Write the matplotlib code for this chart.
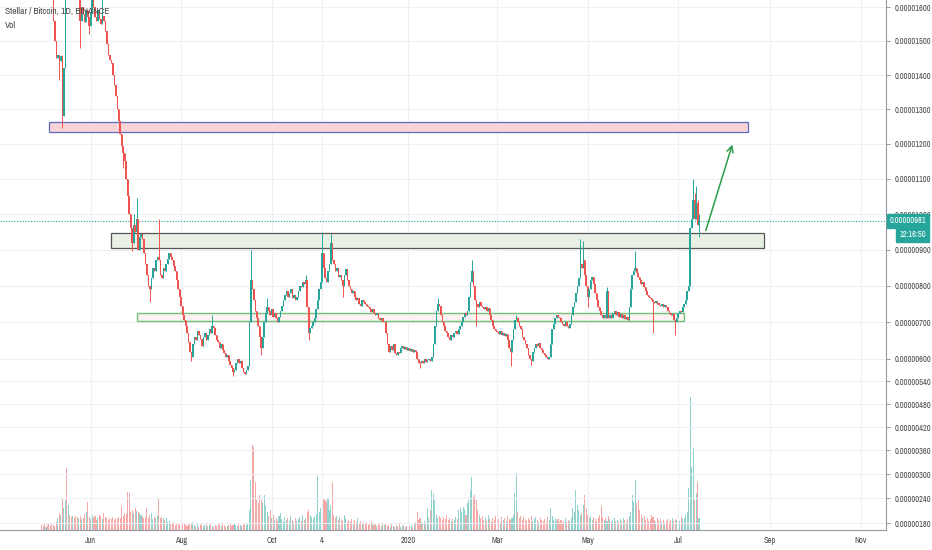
import numpy as np
import pandas as pd
import matplotlib
matplotlib.use("Agg")
import matplotlib.pyplot as plt
import matplotlib.dates as mdates
from matplotlib import font_manager
from matplotlib.patches import Rectangle
from matplotlib.ticker import FixedLocator, FuncFormatter

# XLM/BTC daily closes in satoshi (1e-8 BTC), starting 2019-04-29
first_day = "2019-04-29"
day0 = "2019-05-07"          # wick dict keys count days from this date
first_open = 1850
closes = [
    1820, 1790, 1760, 1800, 1770, 1740, 1700, 1660,
    1560, 1500, 1450, 1460, 1440, 1455, 1280, 1420, 1700, 1680,
    1720, 1690, 1660, 1700, 1670, 1650, 1640, 1660, 1560, 1600,
    1580, 1555, 1590, 1570, 1545, 1585, 1620, 1600, 1570, 1560,
    1590, 1565, 1550, 1575, 1560, 1530, 1490, 1460, 1445, 1435,
    1400, 1370, 1340, 1300, 1265, 1230, 1195, 1175, 1150, 1100,
    1050, 1000, 960, 920, 970, 950, 985, 900, 935, 945,
    930, 890, 860, 830, 800, 790, 820, 850, 840, 870,
    880, 870, 830, 820, 850, 840, 860, 875, 890, 880,
    870, 855, 840, 815, 790, 770, 745, 720, 705, 690,
    670, 645, 620, 605, 640, 660, 650, 675, 665, 655,
    635, 660, 670, 650, 665, 680, 670, 690, 685, 665,
    650, 645, 630, 640, 625, 615, 605, 610, 595, 585,
    575, 565, 570, 590, 600, 590, 595, 575, 565, 560,
    570, 580, 700, 815, 790, 760, 730, 710, 690, 660,
    630, 660, 700, 725, 740, 730, 720, 735, 715, 725,
    710, 700, 715, 730, 745, 760, 775, 785, 770, 780,
    790, 765, 775, 760, 770, 785, 800, 795, 810, 805,
    815, 740, 670, 685, 690, 700, 710, 735, 760, 790,
    810, 890, 850, 820, 810, 840, 860, 920, 870, 860,
    840, 850, 825, 830, 815, 800, 830, 845, 815, 800,
    790, 780, 785, 770, 760, 765, 750, 745, 760, 755,
    750, 745, 740, 735, 728, 735, 725, 720, 725, 712,
    705, 710, 700, 700, 670, 640, 620, 635, 625, 640,
    615, 610, 620, 615, 630, 635, 628, 632, 625, 630,
    622, 628, 620, 625, 618, 600, 590, 588, 595, 590,
    600, 592, 598, 600, 595, 605, 640, 690, 730, 750,
    745, 720, 700, 690, 675, 670, 660, 650, 665, 660,
    670, 675, 668, 680, 690, 700, 715, 725, 720, 730,
    770, 810, 840, 800, 760, 750, 740, 755, 745, 740,
    735, 742, 730, 738, 720, 705, 690, 680, 676, 672,
    668, 675, 665, 670, 663, 668, 650, 630, 620, 650,
    680, 705, 710, 700, 690, 680, 660, 650, 640, 630,
    610, 600, 595, 620, 630, 640, 635, 642, 630, 625,
    615, 610, 605, 600, 605, 640, 680, 695, 710, 720,
    715, 710, 700, 695, 690, 700, 690, 685, 695, 720,
    740, 755, 780, 800, 820, 860, 850, 870, 830, 800,
    770, 790, 815, 825, 805, 780, 760, 740, 730, 720,
    710, 720, 712, 785, 712, 720, 710, 725, 730, 720,
    728, 715, 722, 712, 718, 708, 715, 705, 740, 790,
    830, 840, 850, 835, 825, 815, 805, 810, 795, 785,
    775, 770, 765, 760, 755, 752, 758, 750, 748, 745,
    750, 742, 748, 740, 730, 725, 720, 722, 705, 700,
    712, 725, 730, 728, 740, 750, 760, 785, 800, 960,
    985, 1040, 985, 1030, 970, 981,
]
volumes = [
    5, 4, 6, 3, 5, 7, 4, 6,
    5, 4, 8, 12, 17, 15, 32, 22, 30, 62,
    25, 15, 13, 14, 12, 14, 13, 12, 14, 11,
    12, 16, 18, 28, 13, 11, 15, 12, 14, 10,
    12, 15, 14, 11, 17, 13, 12, 10, 12, 11,
    13, 10, 12, 11, 13, 12, 24, 14, 17, 16,
    38, 37, 18, 20, 17, 22, 19, 18, 17, 15,
    14, 12, 13, 22, 12, 15, 17, 11, 13, 12,
    14, 32, 12, 13, 12, 10, 12, 8, 9, 7,
    6, 8, 5, 7, 6, 5, 4, 6, 7, 5,
    4, 6, 5, 7, 8, 5, 4, 6, 3, 5,
    6, 4, 5, 7, 4, 5, 6, 4, 3, 5,
    4, 6, 5, 4, 6, 5, 3, 4, 5, 6,
    4, 5, 7, 5, 4, 6, 5, 4, 5, 6,
    5, 7, 20, 50, 85, 83, 48, 30, 27, 35,
    30, 28, 35, 25, 18, 14, 20, 12, 15, 10,
    12, 9, 14, 17, 11, 8, 13, 10, 12, 9,
    14, 10, 8, 12, 9, 11, 13, 9, 15, 10,
    12, 18, 20, 15, 13, 11, 14, 16, 54, 18,
    22, 110, 32, 30, 28, 32, 20, 25, 48, 15,
    12, 14, 10, 13, 11, 9, 15, 12, 8, 10,
    9, 11, 7, 10, 8, 12, 6, 9, 7, 8,
    6, 8, 5, 7, 9, 6, 5, 7, 4, 6,
    5, 4, 6, 5, 7, 4, 5, 3, 6, 4,
    3, 5, 4, 6, 3, 4, 5, 3, 4, 6,
    4, 5, 3, 6, 8, 18, 10, 12, 8, 6,
    9, 7, 22, 12, 20, 40, 36, 30, 15, 12,
    14, 12, 10, 13, 11, 15, 10, 12, 9, 11,
    10, 13, 11, 20, 22, 18, 23, 21, 15, 27,
    30, 40, 53, 33, 35, 30, 20, 15, 12, 14,
    10, 13, 9, 15, 11, 8, 12, 10, 14, 9,
    11, 8, 13, 10, 12, 9, 14, 11, 10, 12,
    15, 37, 57, 18, 12, 14, 10, 13, 11, 9,
    12, 10, 14, 9, 11, 13, 10, 8, 12, 10,
    9, 11, 8, 13, 10, 22, 14, 10, 12, 9,
    11, 8, 10, 7, 9, 12, 8, 10, 9, 12,
    22, 18, 40, 25, 20, 15, 17, 25, 35, 22,
    15, 12, 14, 10, 13, 11, 9, 12, 15, 24,
    13, 10, 12, 9, 14, 11, 8, 10, 12, 9,
    10, 8, 11, 9, 12, 10, 8, 11, 14, 18,
    35, 28, 50, 27, 30, 20, 15, 12, 14, 10,
    12, 9, 11, 15, 13, 10, 8, 12, 9, 11,
    8, 10, 7, 9, 11, 8, 10, 12, 9, 11,
    10, 12, 9, 13, 11, 12, 15, 18, 42, 133,
    63, 82, 30, 37, 48, 12,
]
# notable wicks (day number from day0 -> price)
wick_high = {6: 1460, 8: 1760, 33: 1625, 54: 1000, 56: 1045, 71: 985, 107: 718,
             133: 900, 144: 765, 170: 830, 181: 950, 187: 945, 259: 765,
             282: 870, 312: 720, 355: 930, 357: 925, 373: 795, 392: 895,
             431: 1100, 432: 1060, 433: 1080, 434: 1040, 435: 1000}
wick_low = {4: 1385, 6: 1245, 18: 1480, 24: 1520, 47: 1130, 53: 895, 65: 755,
            93: 595, 121: 555, 140: 610, 172: 650, 195: 770, 247: 575,
            285: 690, 308: 580, 322: 585, 360: 740, 404: 670, 419: 665, 435: 935}

# drawn zones: (start, end, low, high)
zone_red = ("2019-05-04", "2020-08-17", 1235, 1264)
zone_top = ("2019-06-15", "2020-08-28", 904, 946)
zone_low = ("2019-07-02", "2020-07-05", 703, 726)
arrow_from = ("2020-07-19", 946)
arrow_to = ("2020-08-07", 1206)

tick_dates = ["2019-06-01", "2019-08-01", "2019-10-01", "2019-11-04", "2020-01-01",
              "2020-03-01", "2020-05-01", "2020-07-01", "2020-09-01", "2020-11-01"]
tick_labels = ["Jun", "Aug", "Oct", "4", "2020", "Mar", "May", "Jul", "Sep", "Nov"]
price_ticks = [180, 240, 300, 360, 420, 480, 540, 600, 700, 800, 900,
               1000, 1100, 1200, 1300, 1400, 1500, 1600]

GREEN = "#26a69a"
RED = "#ef5350"
TEXT = "#4a4a4a"

# a narrow face fits the squeezed look of the screenshot labels
narrow = [f.fname for f in font_manager.fontManager.ttflist
          if "Narrow-Regular" in f.fname or f.fname.endswith("DejaVuSansCondensed.ttf")]
if narrow:
    fp = font_manager.FontProperties(fname=sorted(narrow)[-1])
    fsize = 6.5 if "Narrow" in sorted(narrow)[-1] else 5.2
else:
    fp = font_manager.FontProperties(family="Liberation Sans")
    fsize = 4.9

dates = pd.date_range(first_day, periods=len(closes), freq="D")
x = mdates.date2num(dates)
c = np.array(closes, dtype=float)
o = np.r_[first_open, c[:-1]]
hi = np.maximum(o, c)
lo = np.minimum(o, c)
off = (pd.Timestamp(day0) - pd.Timestamp(first_day)).days
for k, v in wick_high.items():
    hi[k + off] = v
for k, v in wick_low.items():
    lo[k + off] = v
up = c >= o
col = np.where(up, GREEN, RED)

fig = plt.figure(figsize=(9.32, 5.5), dpi=100)
ax = fig.add_axes([0, 20 / 550, 886 / 932, 530 / 550])
ax2 = ax.twinx()
ax.set_zorder(ax2.get_zorder() + 1)
ax.patch.set_visible(False)

# volume overlay
vcol = np.where(up, "#26a69a80", "#ef535080")
ax2.bar(x, volumes, width=0.7, color=vcol, linewidth=0)
ax2.set_ylim(0, 530)
ax2.set_yticks([])
for s in ax2.spines.values():
    s.set_visible(False)

# price scale
ax.set_yscale("function", functions=(lambda p: np.power(np.maximum(p, 1e-6), 0.9),
                                     lambda q: np.power(np.maximum(q, 1e-6), 1 / 0.9)))
ax.set_ylim(164, 1621)
ax.set_xlim(mdates.date2num(pd.Timestamp("2019-04-01")), mdates.date2num(pd.Timestamp("2020-11-18")))

# zones
def zone(z, fc, ec, lw):
    x0 = mdates.date2num(pd.Timestamp(z[0]))
    x1 = mdates.date2num(pd.Timestamp(z[1]))
    ax.add_patch(Rectangle((x0, z[2]), x1 - x0, z[3] - z[2], fc=fc, ec=ec, lw=lw, zorder=2))

zone(zone_red, "#f9d4d7", "#5c6bc0", 0.9)
zone(zone_top, "#e8f0e5", "#555555", 0.9)
zone(zone_low, "#fdf1f1", "#72c176", 1.0)

ax.annotate("", xy=(mdates.date2num(pd.Timestamp(arrow_to[0])), arrow_to[1]),
            xytext=(mdates.date2num(pd.Timestamp(arrow_from[0])), arrow_from[1]),
            arrowprops=dict(arrowstyle="->", color="#2a9d4a", lw=1.1, mutation_scale=11),
            zorder=5)

# candles
ax.vlines(x, lo, hi, colors=col, lw=0.7, zorder=3)
body = np.maximum(np.abs(c - o), 3)
ax.bar(x, body, bottom=np.minimum(o, c), width=1.0, color=col, linewidth=0, zorder=4)

# last price line
last = closes[-1]
ax.axhline(last, color=GREEN, lw=0.8, ls=(0, (1, 1.5)), zorder=2)

# axes styling
ax.yaxis.tick_right()
ax.yaxis.set_major_locator(FixedLocator(price_ticks))
ax.yaxis.set_minor_locator(FixedLocator([]))
ax.yaxis.set_major_formatter(FuncFormatter(lambda v, p: f"{v / 1e8:.8f}"))
ax.set_xticks([mdates.date2num(pd.Timestamp(d)) for d in tick_dates])
ax.set_xticklabels(tick_labels)
ax.tick_params(axis="y", length=3, width=0.7, color="#9598a1", labelcolor=TEXT, pad=3)
ax.tick_params(axis="x", length=0, labelcolor=TEXT, pad=4)
for lab in ax.get_yticklabels() + ax.get_xticklabels():
    lab.set_fontproperties(fp)
    lab.set_fontsize(fsize)
ax.grid(True, color="#eef0f5", lw=0.8, zorder=0)
for s in ["top", "left"]:
    ax.spines[s].set_visible(False)
for s in ["right", "bottom"]:
    ax.spines[s].set_color("#9598a1")
    ax.spines[s].set_linewidth(0.8)

# price and countdown tags on the scale
ytr = ax.get_yaxis_transform()
ax.annotate(f"{last / 1e8:.8f}", xy=(1, last), xycoords=ytr, xytext=(2.5, 0),
            textcoords="offset points", ha="left", va="center", color="white",
            fontproperties=fp, fontsize=fsize, annotation_clip=False, zorder=10,
            bbox=dict(boxstyle="square,pad=0.3", fc=GREEN, ec=GREEN))
ax.annotate("12:16:50", xy=(1, last), xycoords=ytr, xytext=(9.5, -10),
            textcoords="offset points", ha="left", va="center", color="white",
            fontproperties=fp, fontsize=fsize, annotation_clip=False, zorder=10,
            bbox=dict(boxstyle="square,pad=0.3", fc=GREEN, ec=GREEN))

fig.text(5 / 932, 1 - 11 / 550, "Stellar / Bitcoin, 1D, BINANCE", fontproperties=fp,
         fontsize=fsize + 0.9, color=TEXT, va="center", zorder=20)
fig.text(5 / 932, 1 - 25 / 550, "Vol", fontproperties=fp, fontsize=fsize + 0.9,
         color=TEXT, va="center", zorder=20)

fig.savefig("out.png", dpi=100, facecolor="white")
